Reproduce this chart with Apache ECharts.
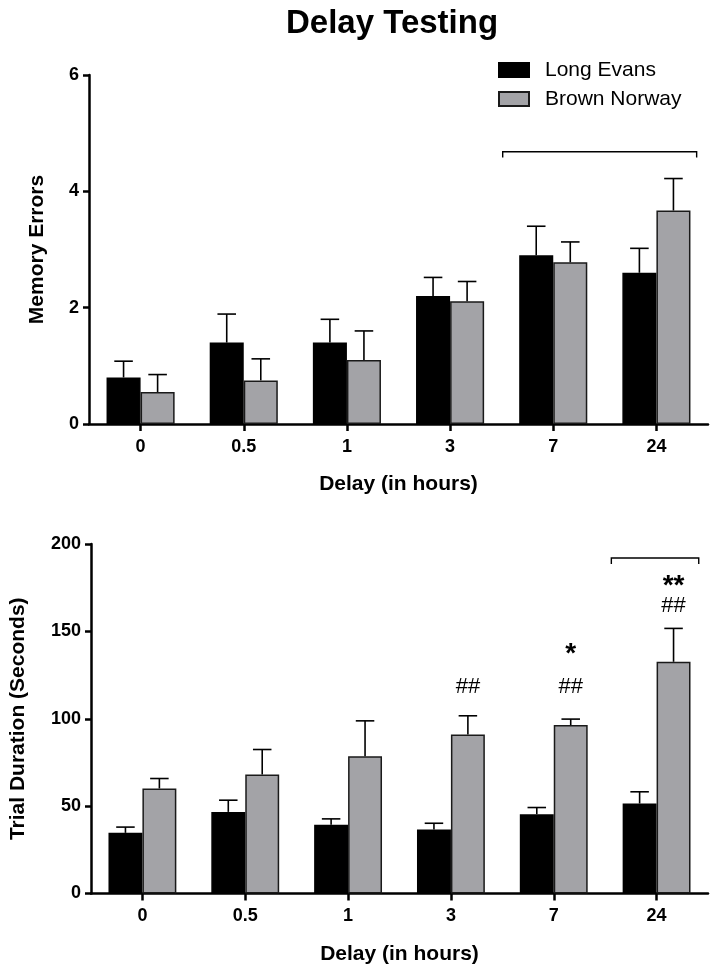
<!DOCTYPE html>
<html><head><meta charset="utf-8">
<script src="https://cdn.jsdelivr.net/npm/echarts@6/dist/echarts.min.js"></script>
<style>html,body{margin:0;padding:0;background:#fff}#c{width:714px;height:975px}</style>
</head><body><div id="c"></div>
<script>
const categories = ['0','0.5','1','3','7','24'];
const seriesNames = ['Long Evans','Brown Norway'];
// Memory errors (top panel)
const memLE    = [0.80, 1.40, 1.40, 2.20, 2.90, 2.60];
const memLEerr = [0.28, 0.49, 0.40, 0.32, 0.50, 0.42];
const memBN    = [0.55, 0.75, 1.10, 2.11, 2.78, 3.67];
const memBNerr = [0.30, 0.37, 0.50, 0.34, 0.35, 0.55];
// Trial duration (bottom panel)
const durLE    = [34.7, 46.7, 39.3, 36.6, 45.4, 51.5];
const durLEerr = [3.3, 6.7, 3.4, 3.6, 3.8, 6.7];
const durBN    = [60.1, 68.1, 78.6, 91.0, 96.4, 132.6];
const durBNerr = [5.7, 14.3, 20.2, 10.7, 3.4, 19.1];
// significance annotations (bottom panel, above Brown Norway bars)
const annCats   = ['3', '7', '7', '24', '24'];
const annTexts  = ['##', '##', '*', '##', '**'];
const annValues = [118, 118, 137, 164.6, 176];
// brackets
const memBracket = {from: '7', to: '24', value: 4.68, end: 4.58};
const durBracket = {from: '24', to: '24', value: 192, end: 188.6};

const FONT = 'Liberation Sans, Arial, Helvetica, sans-serif';
const BLACK = '#000000';
const GRAY = '#a3a3a7';

const chart = echarts.init(document.getElementById('c'), null, {renderer: 'canvas'});

function xAxisCfg(gi) {
  return {
    type: 'category', gridIndex: gi, data: categories,
    name: 'Delay (in hours)', nameLocation: 'middle', nameGap: 50,
    nameTextStyle: {fontFamily: FONT, fontSize: 21, fontWeight: 'bold', color: '#000'},
    axisLine: {show: true, lineStyle: {color: '#000', width: 2.5}},
    axisTick: {show: true, alignWithLabel: true, length: 7, lineStyle: {color: '#000', width: 2.5}},
    axisLabel: {fontFamily: FONT, fontSize: 18, fontWeight: 'bold', color: '#000', margin: 14},
    splitLine: {show: false}
  };
}
function yAxisCfg(gi, name, max, interval, gap) {
  return {
    type: 'value', gridIndex: gi, min: 0, max: max, interval: interval,
    name: name, nameLocation: 'middle', nameGap: gap,
    nameTextStyle: {fontFamily: FONT, fontSize: 21, fontWeight: 'bold', color: '#000'},
    axisLine: {show: true, lineStyle: {color: '#000', width: 2.5}},
    axisTick: {show: true, length: 6, lineStyle: {color: '#000', width: 2.5}},
    axisLabel: {fontFamily: FONT, fontSize: 18, fontWeight: 'bold', color: '#000', margin: 10},
    splitLine: {show: false}
  };
}
function barSeries(name, gi, vals, color) {
  return {
    type: 'bar', name: name, xAxisIndex: gi, yAxisIndex: gi, data: vals,
    barCategoryGap: '34%', barGap: '0%',
    itemStyle: {color: color, borderColor: color === BLACK ? '#000' : '#1a1a1a', borderWidth: 1.5},
    emphasis: {disabled: true}, z: 2
  };
}
function errSeries(gi, vals, errs, side) {
  return {
    type: 'custom', xAxisIndex: gi, yAxisIndex: gi, z: 5, silent: true,
    data: categories.map((c, i) => [i, vals[i], vals[i] + errs[i]]),
    renderItem(params, api) {
      const bw = api.size([1, 0])[0];
      const x = api.coord([api.value(0), 0])[0] + side * 0.165 * bw;
      const y0 = api.coord([api.value(0), api.value(1)])[1];
      const y1 = api.coord([api.value(0), api.value(2)])[1];
      const hw = 0.09 * bw;
      return {type: 'group', children: [
        {type: 'line', shape: {x1: x, y1: y0, x2: x, y2: y1}, style: {stroke: '#000', lineWidth: 1.6}},
        {type: 'line', shape: {x1: x - hw, y1: y1, x2: x + hw, y2: y1}, style: {stroke: '#000', lineWidth: 1.6}}
      ]};
    }
  };
}
function bracketSeries(gi, b, fStart, fEnd) {
  return {
    type: 'custom', xAxisIndex: gi, yAxisIndex: gi, z: 5, silent: true,
    data: [[categories.indexOf(b.from), b.value, categories.indexOf(b.to), b.end]],
    renderItem(params, api) {
      const bw = api.size([1, 0])[0];
      const xs = api.coord([api.value(0), 0])[0] - bw / 2 + fStart * bw;
      const xe = api.coord([api.value(2), 0])[0] + bw / 2 + fEnd * bw;
      const y = api.coord([0, api.value(1)])[1];
      const ye = api.coord([0, api.value(3)])[1];
      return {type: 'polyline', shape: {points: [[xs, ye], [xs, y], [xe, y], [xe, ye]]},
        style: {stroke: '#000', lineWidth: 1.4, fill: null}};
    }
  };
}
const annSeries = {
  type: 'custom', xAxisIndex: 1, yAxisIndex: 1, z: 6, silent: true,
  data: annCats.map((c, i) => [categories.indexOf(c), annValues[i], i]),
  renderItem(params, api) {
    const bw = api.size([1, 0])[0];
    const p = api.coord([api.value(0), api.value(1)]);
    const t = annTexts[api.value(2)];
    const star = t.indexOf('*') >= 0;
    return {type: 'text', x: p[0] + 0.165 * bw, y: p[1],
      style: {text: t, textAlign: 'center', textVerticalAlign: 'middle',
        fontFamily: FONT, fontSize: star ? 28 : 22, fontWeight: star ? 'bold' : 'normal', fill: '#000'}};
  }
};

chart.setOption({
  animation: false,
  backgroundColor: '#fff',
  graphic: [{
    type: 'text', x: 392, y: 7,
    style: {text: 'Delay Testing', textAlign: 'center', textVerticalAlign: 'top',
      fontFamily: FONT, fontSize: 33, fontWeight: 'bold', fill: '#000'}
  }],
  legend: {
    data: seriesNames, orient: 'vertical', left: 493, top: 54,
    icon: 'rect', itemWidth: 30, itemHeight: 14, itemGap: 7,
    textStyle: {fontFamily: FONT, fontSize: 21, color: '#000', lineHeight: 22, padding: [0, 0, 0, 11]},
    selectedMode: false
  },
  grid: [
    {left: 89, top: 75, width: 619, height: 349},
    {left: 89, top: 544, width: 619, height: 349.5}
  ],
  xAxis: [xAxisCfg(0), xAxisCfg(1)],
  yAxis: [
    yAxisCfg(0, 'Memory Errors', 6, 2, 41),
    yAxisCfg(1, 'Trial Duration (Seconds)', 200, 50, 62)
  ],
  series: [
    barSeries('Long Evans', 0, memLE, BLACK),
    barSeries('Brown Norway', 0, memBN, GRAY),
    barSeries('Long Evans', 1, durLE, BLACK),
    barSeries('Brown Norway', 1, durBN, GRAY),
    errSeries(0, memLE, memLEerr, -1),
    errSeries(0, memBN, memBNerr, 1),
    errSeries(1, durLE, durLEerr, -1),
    errSeries(1, durBN, durBNerr, 1),
    bracketSeries(0, memBracket, 0.01, -0.11),
    bracketSeries(1, durBracket, 0.06, -0.09),
    annSeries
  ]
});
</script>
</body></html>
